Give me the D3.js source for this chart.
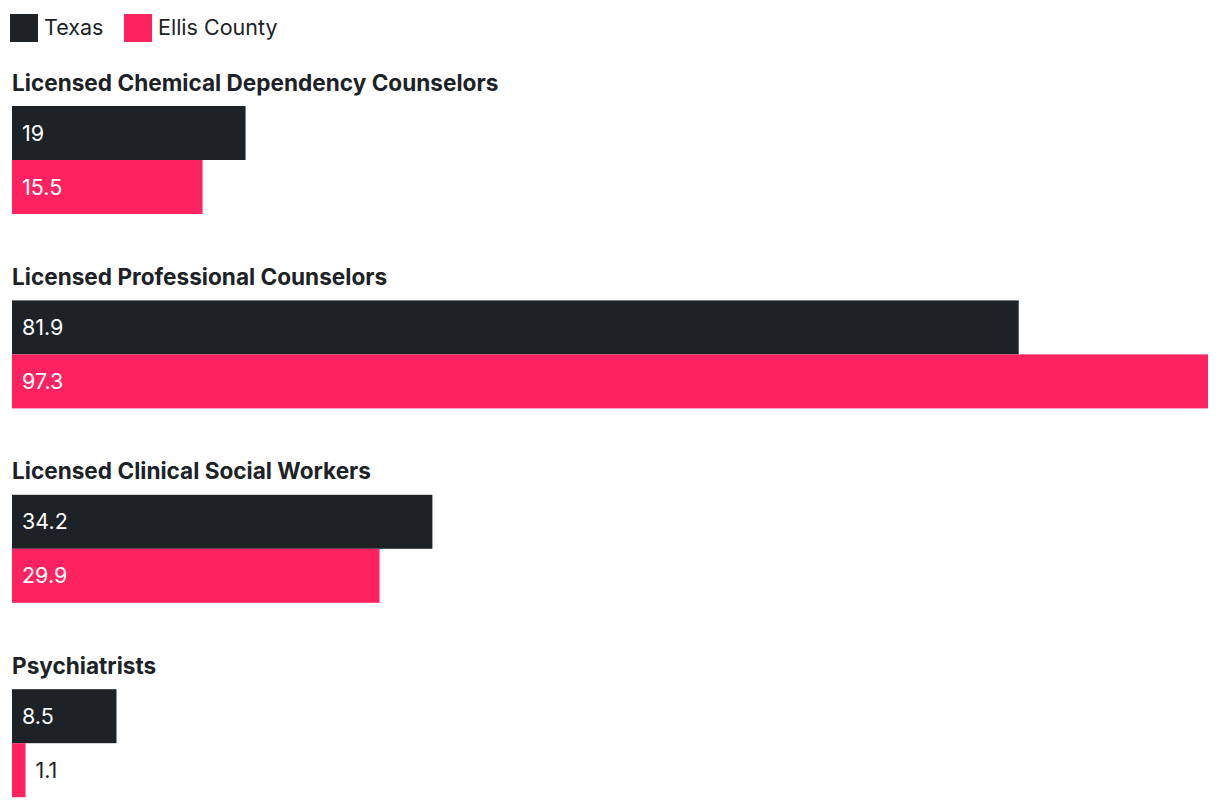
<!DOCTYPE html>
<html>
<head>
<meta charset="utf-8">
<script src="https://cdn.jsdelivr.net/npm/d3@7"></script>
<style>
  html, body { margin: 0; padding: 0; background: #fff; }
  svg { display: block; font-family: Inter, "Noto Sans", sans-serif; }
</style>
</head>
<body>
<svg id="chart" width="1220" height="808"></svg>
<script>
const categories = [
  "Licensed Chemical Dependency Counselors",
  "Licensed Professional Counselors",
  "Licensed Clinical Social Workers",
  "Psychiatrists"
];
const seriesNames = ["Texas", "Ellis County"];
const texasValues = [19, 81.9, 34.2, 8.5];
const ellisValues = [15.5, 97.3, 29.9, 1.1];
const seriesColors = ["#1c2226", "#ff2260"];

const svg = d3.select("#chart");
const dark = "#1c2226";

const x = d3.scaleLinear().domain([0, d3.max(ellisValues.concat(texasValues))]).range([12, 1208]);
const yGroup = d3.scaleBand().domain(categories).range([106, 106 + 4 * 194.4]).paddingInner(0).paddingOuter(0);
const ySub = d3.scaleBand().domain(seriesNames).range([0, 108]);
const color = d3.scaleOrdinal().domain(seriesNames).range(seriesColors);

// legend
const legend = svg.append("g");
const legendX = [10, 124];
seriesNames.forEach((s, i) => {
  legend.append("rect").attr("x", legendX[i]).attr("y", 14).attr("width", 28).attr("height", 28).attr("fill", color(s));
  legend.append("text").attr("x", legendX[i] + 34).attr("y", 27).attr("dy", "0.35em")
    .attr("font-size", 21.5).attr("fill", dark).text(s);
});

const data = categories.map((c, i) => ({ cat: c, vals: [
  { s: seriesNames[0], v: texasValues[i] },
  { s: seriesNames[1], v: ellisValues[i] }
]}));

const groups = svg.append("g").selectAll("g").data(data).join("g")
  .attr("transform", d => `translate(0,${yGroup(d.cat)})`);

groups.append("text")
  .attr("x", 12).attr("y", -15.5)
  .attr("font-size", 22.6).attr("font-weight", 700).attr("fill", dark)
  .text(d => d.cat);

groups.selectAll("rect").data(d => d.vals).join("rect")
  .attr("x", x(0)).attr("y", d => ySub(d.s))
  .attr("width", d => x(d.v) - x(0)).attr("height", ySub.bandwidth())
  .attr("fill", d => color(d.s));

groups.selectAll("text.val").data(d => d.vals).join("text")
  .attr("class", "val")
  .attr("y", d => ySub(d.s) + ySub.bandwidth() / 2).attr("dy", "0.35em")
  .attr("font-size", 21.5)
  .each(function(d) {
    const w = x(d.v) - x(0);
    const inside = w > 60;
    d3.select(this).attr("x", inside ? x(0) + 10 : x(d.v) + 10)
      .attr("fill", inside ? "#fff" : dark);
  })
  .text(d => d.v);
</script>
</body>
</html>
